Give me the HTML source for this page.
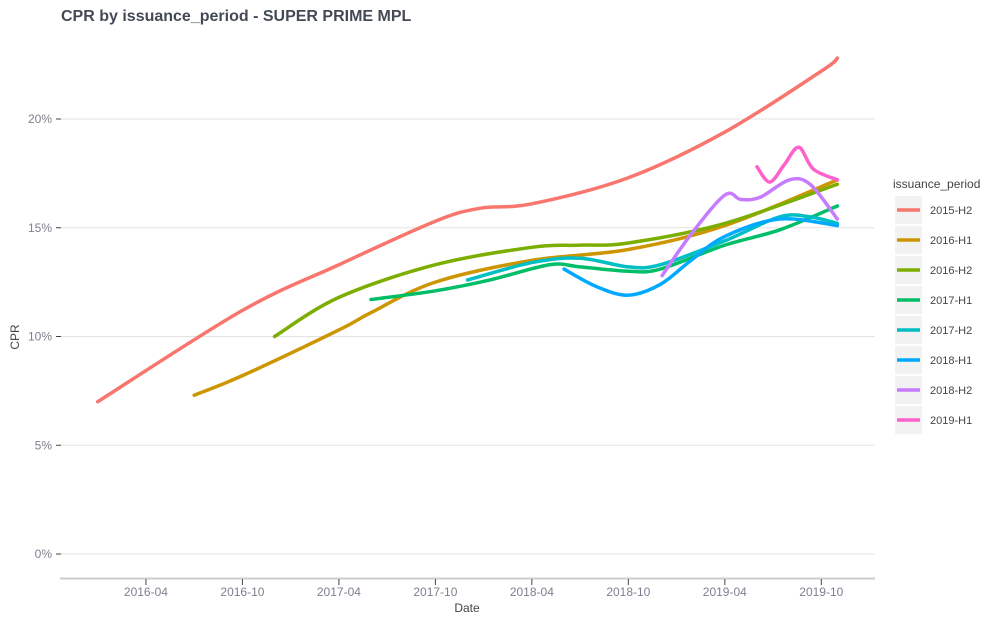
<!DOCTYPE html>
<html><head><meta charset="utf-8"><style>
body{margin:0;background:#fff;font-family:"Liberation Sans",sans-serif;}
svg text{font-family:"Liberation Sans",sans-serif;}
</style></head><body>
<svg id="chart" width="1000" height="625" viewBox="0 0 1000 625" xmlns="http://www.w3.org/2000/svg">
<text x="61" y="21" font-size="16" font-weight="bold" fill="#444a55">CPR by issuance_period - SUPER PRIME MPL</text>
<g id="grid"></g><g id="lines"></g><g id="axes"></g><g id="legend"></g>
<text x="467" y="612" font-size="12" text-anchor="middle" fill="#444">Date</text>
<text x="19" y="337" font-size="12" text-anchor="middle" fill="#444" transform="rotate(-90 19 337)">CPR</text>
</svg>
<script>
// months since 2016-01
const seriesNames=["2015-H2","2016-H1","2016-H2","2017-H1","2017-H2","2018-H1","2018-H2","2019-H1"];
const colors=["#F8766D","#CD9600","#7CAE00","#00BE67","#00BFC4","#00A9FF","#C77CFF","#FF61CC"];
const s0=[[0,7.0],[9,11.2],[15,13.3],[21,15.3],[23.8,15.9],[27,16.1],[33,17.3],[39,19.4],[45,22.2],[46,22.8]];
const s1=[[6,7.3],[9,8.2],[15,10.3],[17,11.1],[21,12.5],[27,13.5],[33,14.0],[39,15.1],[46,17.2]];
const s2=[[11,10.0],[15,11.8],[21,13.3],[27,14.1],[30,14.2],[33,14.3],[39,15.2],[46,17.0]];
const s3=[[17,11.7],[21,12.1],[24.4,12.6],[28.1,13.3],[30,13.2],[33,13.0],[35,13.1],[39,14.2],[42.4,14.9],[46,16.0]];
const s4=[[23,12.6],[27,13.4],[30,13.6],[33,13.2],[35,13.3],[39,14.4],[42.4,15.5],[44.3,15.5],[46,15.2]];
const s5=[[29,13.1],[31,12.3],[33,11.9],[35,12.4],[36.9,13.5],[39,14.6],[42.4,15.4],[46,15.1]];
const s6=[[35.1,12.8],[36.9,14.7],[39,16.5],[40,16.3],[41.2,16.4],[43,17.2],[44.3,17.0],[46,15.4]];
const s7=[[41,17.8],[41.8,17.1],[42.7,17.9],[43.6,18.7],[44.5,17.7],[46,17.2]];
const allSeries=[s0,s1,s2,s3,s4,s5,s6,s7];
const yTicks=[0,5,10,15,20];
const xTickLabels=["2016-04","2016-10","2017-04","2017-10","2018-04","2018-10","2019-04","2019-10"];
const xTickMonths=[3,9,15,21,27,33,39,45];
const NS="http://www.w3.org/2000/svg";
const X=m=>97.7+m*16.08, Y=v=>554-v*21.75;
function mk(t,a,p){const e=document.createElementNS(NS,t);for(const k in a)e.setAttribute(k,a[k]);p.appendChild(e);return e;}
const grid=document.getElementById('grid'),axes=document.getElementById('axes'),lines=document.getElementById('lines'),leg=document.getElementById('legend');
yTicks.forEach(v=>{
 const g=mk('line',{x1:60,x2:875,y1:Y(v),y2:Y(v),stroke:'#e3e3e3','stroke-width':1},grid);
 
 
 const t=mk('line',{x1:56,x2:61,y1:Y(v),y2:Y(v),stroke:'#444'},axes);
 
 
 const l=mk('text',{x:52,y:Y(v)+4,'font-size':12,'text-anchor':'end',fill:'#7f7f8f'},axes);l.textContent=v+'%';
 
 
});
const ax=mk('line',{x1:60,x2:875,y1:578.5,y2:578.5,stroke:'#ccc','stroke-width':2},axes);


xTickMonths.forEach((m,i)=>{
 const t=mk('line',{x1:X(m),x2:X(m),y1:579,y2:585,stroke:'#444'},axes);
 
 
 const l=mk('text',{x:X(m),y:596,'font-size':12,'text-anchor':'middle',fill:'#7f7f8f'},axes);l.textContent=xTickLabels[i];
 
 
});
function path(pts){
 const p=pts.map(q=>[X(q[0]),Y(q[1])]);let d='M'+p[0][0]+','+p[0][1];
 for(let i=0;i<p.length-1;i++){const a=p[i-1]||p[i],b=p[i],c=p[i+1],e=p[i+2]||c;
  d+=' C'+(b[0]+(c[0]-a[0])/6)+','+(b[1]+(c[1]-a[1])/6)+' '+(c[0]-(e[0]-b[0])/6)+','+(c[1]-(e[1]-b[1])/6)+' '+c[0]+','+c[1];}
 return d;}
allSeries.forEach((s,i)=>{
 const p=mk('path',{d:path(s),fill:'none',stroke:colors[i],'stroke-width':3.5,'stroke-linecap':'round'},lines);
 
 
});
const lt=mk('text',{x:893,y:188,'font-size':12,fill:'#444'},leg);lt.textContent='issuance_period';


seriesNames.forEach((n,i)=>{
 const y=210+i*30;
 const g=mk('g',{},leg);
 
 
 mk('rect',{x:895,y:y-14,width:27,height:28,fill:'#f2f2f2'},g);
 mk('line',{x1:897,x2:920,y1:y,y2:y,stroke:colors[i],'stroke-width':3.5},g);
 const t=mk('text',{x:930,y:y+4,'font-size':11,fill:'#444'},g);t.textContent=n;
});
</script>
</body></html>
